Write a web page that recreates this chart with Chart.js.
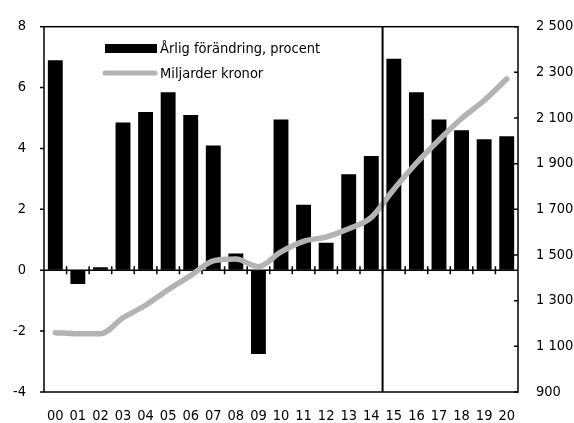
<!DOCTYPE html>
<html>
<head>
<meta charset="utf-8">
<script src="https://cdn.jsdelivr.net/npm/chart.js@4/dist/chart.umd.min.js"></script>
<style>
  html, body { margin: 0; padding: 0; background: #fff; }
  #wrap { width: 574px; height: 423px; }
</style>
</head>
<body>
<div id="wrap"><canvas id="chart" width="574" height="423"></canvas></div>
<script>
// data
var years = ['00','01','02','03','04','05','06','07','08','09','10','11','12','13','14','15','16','17','18','19','20'];
var changePct = [6.9, -0.45, 0.1, 4.85, 5.2, 5.85, 5.1, 4.1, 0.55, -2.75, 4.95, 2.15, 0.9, 3.15, 3.75, 6.95, 5.85, 4.95, 4.6, 4.3, 4.4];
var billions = [1160, 1155, 1155, 1225, 1280, 1348, 1410, 1474, 1482, 1449, 1514, 1560, 1579, 1615, 1665, 1788, 1903, 2004, 2098, 2177, 2271];
var barLabel = 'Årlig förändring, procent';
var lineLabel = 'Miljarder kronor';
var splitAfter = '14'; // forecast line between 14 and 15

var FONT = '"Liberation Sans Narrow", "DejaVu Sans Condensed", "Liberation Sans", sans-serif';
var FSIZE = 14.5;
var GREY = '#b3b3b3';

function spaced(v) {
    if (v >= 1000) return Math.floor(v / 1000) + ' ' + String(v % 1000).padStart(3, '0');
    return String(v);
}

// frame, zero line, ticks, split line, legend
var decor = {
    id: 'decor',
    beforeDatasetsDraw: function (chart) {
        var ctx = chart.ctx, a = chart.chartArea;
        var y = chart.scales.y;
        var y0 = y.getPixelForValue(0);
        ctx.save();
        ctx.strokeStyle = '#000';
        ctx.lineWidth = 1.5;
        ctx.beginPath();
        ctx.moveTo(a.left, y0); ctx.lineTo(a.right, y0);
        var step = (a.right - a.left) / years.length;
        for (var i = 1; i < years.length; i++) {
            var px = a.left + i * step;
            ctx.moveTo(px, y0 - 4); ctx.lineTo(px, y0 + 4);
        }
        ctx.stroke();
        ctx.restore();
    },
    afterDraw: function (chart) {
        var ctx = chart.ctx, a = chart.chartArea;
        var y = chart.scales.y, y2 = chart.scales.y2;
        ctx.save();
        ctx.strokeStyle = '#000';
        ctx.lineWidth = 1.5;
        ctx.strokeRect(a.left, a.top, a.right - a.left, a.bottom - a.top);
        ctx.beginPath();
        y.ticks.forEach(function (t) {
            var py = y.getPixelForValue(t.value);
            ctx.moveTo(a.left - 4, py); ctx.lineTo(a.left, py);
        });
        y2.ticks.forEach(function (t) {
            var py = y2.getPixelForValue(t.value);
            ctx.moveTo(a.right - 4, py); ctx.lineTo(a.right, py);
        });
        ctx.stroke();

        // split line
        var step = (a.right - a.left) / years.length;
        var sx = a.left + (years.indexOf(splitAfter) + 1) * step;
        ctx.lineWidth = 2;
        ctx.beginPath();
        ctx.moveTo(sx, a.top); ctx.lineTo(sx, a.bottom);
        ctx.stroke();

        // legend
        ctx.fillStyle = '#000';
        ctx.fillRect(105, 44, 52, 9);
        ctx.strokeStyle = GREY;
        ctx.lineWidth = 5;
        ctx.lineCap = 'round';
        ctx.beginPath();
        ctx.moveTo(105, 73); ctx.lineTo(155, 73);
        ctx.stroke();
        ctx.font = FSIZE + 'px ' + FONT;
        ctx.textBaseline = 'middle';
        ctx.fillText(barLabel, 160, 49);
        ctx.fillText(lineLabel, 160, 74);
        ctx.restore();
    }
};

var ctx = document.getElementById('chart').getContext('2d');
new Chart(ctx, {
    data: {
        labels: years,
        datasets: [
            {
                type: 'line',
                label: lineLabel,
                data: billions,
                yAxisID: 'y2',
                borderColor: GREY,
                borderWidth: 5.5,
                borderCapStyle: 'round',
                pointRadius: 0,
                cubicInterpolationMode: 'monotone',
                order: 0
            },
            {
                type: 'bar',
                label: barLabel,
                data: changePct,
                yAxisID: 'y',
                backgroundColor: '#000',
                barPercentage: 0.66,
                categoryPercentage: 1,
                order: 1
            }
        ]
    },
    options: {
        responsive: false,
        animation: false,
        layout: { padding: { top: 22, left: 0, right: 0, bottom: 0 } },
        plugins: { legend: { display: false }, tooltip: { enabled: false } },
        scales: {
            x: {
                grid: { display: false, drawTicks: false },
                border: { display: false },
                ticks: { color: '#000', padding: 16, maxRotation: 0, autoSkip: false, font: { family: FONT, size: FSIZE } },
                afterFit: function (s) { s.height = 31; }
            },
            y: {
                position: 'left',
                min: -4, max: 8,
                grid: { drawOnChartArea: false, drawTicks: false },
                border: { display: false },
                ticks: { stepSize: 2, color: '#000', padding: 18, font: { family: FONT, size: FSIZE } },
                afterFit: function (s) { s.width = 44; }
            },
            y2: {
                position: 'right',
                min: 900, max: 2500,
                grid: { drawOnChartArea: false, drawTicks: false },
                border: { display: false },
                ticks: { stepSize: 200, color: '#000', padding: 18, font: { family: FONT, size: FSIZE },
                    callback: function (v) { return spaced(v); } },
                afterFit: function (s) { s.width = 56; }
            }
        }
    },
    plugins: [decor]
});
</script>
</body>
</html>
